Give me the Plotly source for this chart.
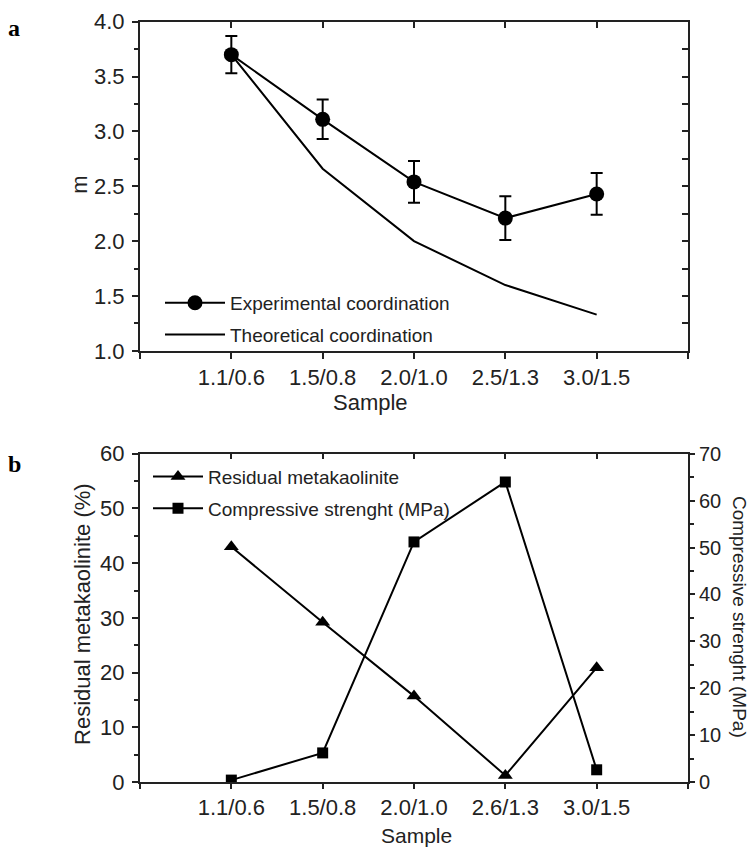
import plotly.graph_objects as go

# ---- data ----
samples_a = ["1.1/0.6", "1.5/0.8", "2.0/1.0", "2.5/1.3", "3.0/1.5"]
exp_coord = [3.70, 3.11, 2.54, 2.21, 2.43]
exp_err = [0.17, 0.18, 0.19, 0.20, 0.19]
theo_coord = [3.70, 2.66, 2.00, 1.60, 1.33]

samples_b = ["1.1/0.6", "1.5/0.8", "2.0/1.0", "2.6/1.3", "3.0/1.5"]
residual_mk = [43.0, 29.2, 15.7, 1.2, 20.9]
compressive = [0.4, 6.2, 51.2, 64.0, 2.6]

W, H = 752, 861
INK = "#222222"
FONT = "Liberation Sans, Arial, sans-serif"

xa = list(range(1, len(samples_a) + 1))
xb = list(range(1, len(samples_b) + 1))

def px(v):
    return v / W

def py(v):
    return 1 - v / H

xdom = [px(140), px(688)]
ydom_a = [py(349), py(10)]
ydom_b = [py(793), py(455)]

fig = go.Figure()

fig.add_trace(go.Scatter(
    x=xa, y=exp_coord, name="Experimental coordination", mode="lines+markers",
    line=dict(color="black", width=2),
    marker=dict(symbol="circle", size=15, color="black"),
    error_y=dict(type="data", array=exp_err, visible=True, color="black", thickness=2, width=6),
    xaxis="x", yaxis="y", legend="legend", legendgroup="g1"))
fig.add_trace(go.Scatter(
    x=xa, y=theo_coord, name="Theoretical coordination", mode="lines",
    line=dict(color="black", width=2),
    xaxis="x2", yaxis="y2", legend="legend", legendgroup="g2"))

fig.add_trace(go.Scatter(
    x=xb, y=residual_mk, name="Residual metakaolinite", mode="lines+markers",
    line=dict(color="black", width=2),
    marker=dict(symbol="triangle-up", size=13, color="black"),
    xaxis="x3", yaxis="y3", legend="legend2", legendgroup="g3"))
fig.add_trace(go.Scatter(
    x=xb, y=compressive, name="Compressive strenght (MPa)", mode="lines+markers",
    line=dict(color="black", width=2),
    marker=dict(symbol="square", size=11, color="black"),
    xaxis="x4", yaxis="y4", legend="legend2", legendgroup="g4"))

tickfont = dict(family=FONT, size=22, color=INK)
common = dict(showgrid=False, zeroline=False, showline=True, linecolor=INK, linewidth=2,
              tickcolor=INK, tickwidth=1.5, tickfont=tickfont)
common_r = dict(common, tickfont=dict(family=FONT, size=20, color=INK))

fig.update_layout(
    width=W, height=H, margin=dict(l=0, r=0, t=0, b=0),
    paper_bgcolor="white", plot_bgcolor="white",
    font=dict(family=FONT, color=INK),
    xaxis=dict(domain=xdom, anchor="y", range=[0, 6],
               tickmode="array", tickvals=[0] + xa + [6], ticktext=[""] + samples_a + [""],
               ticks="outside", ticklen=6, **common),
    xaxis2=dict(overlaying="x", side="top", anchor="y", range=[0, 6],
                tickmode="array", tickvals=xa, showticklabels=False,
                ticks="inside", ticklen=6, **common),
    yaxis=dict(domain=ydom_a, anchor="x", range=[1, 4], dtick=0.5, tick0=1,
               tickformat=".1f", ticks="outside", ticklen=6, ticklabelstandoff=3,
               minor=dict(dtick=0.25, ticks="outside", ticklen=4, tickcolor=INK, tickwidth=1.5),
               **common),
    yaxis2=dict(overlaying="y", side="right", anchor="x", range=[1, 4], dtick=0.25, tick0=1,
                showticklabels=False, ticks="inside", ticklen=6, **common),
    xaxis3=dict(domain=xdom, anchor="y3", range=[0, 6],
                tickmode="array", tickvals=[0] + xb + [6], ticktext=[""] + samples_b + [""],
                ticks="outside", ticklen=5, **common),
    xaxis4=dict(overlaying="x3", side="top", anchor="y3", range=[0, 6],
                tickmode="array", tickvals=xb, showticklabels=False,
                ticks="inside", ticklen=5, **common),
    yaxis3=dict(domain=ydom_b, anchor="x3", range=[0, 60], dtick=10, tick0=0,
                ticks="outside", ticklen=6, ticklabelstandoff=3,
                minor=dict(dtick=5, ticks="outside", ticklen=4, tickcolor=INK, tickwidth=1.5),
                **common),
    yaxis4=dict(overlaying="y3", side="right", anchor="x3", range=[0, 70], dtick=10, tick0=0,
                ticks="outside", ticklen=5,
                minor=dict(dtick=5, ticks="outside", ticklen=4, tickcolor=INK, tickwidth=1.5),
                **common_r),
    legend=dict(x=px(160), y=py(280), xanchor="left", yanchor="top",
                bgcolor="rgba(0,0,0,0)", font=dict(family=FONT, size=19, color=INK),
                itemwidth=60, tracegroupgap=4, traceorder="grouped"),
    legend2=dict(x=px(148), y=py(459), xanchor="left", yanchor="top",
                 bgcolor="rgba(0,0,0,0)", font=dict(family=FONT, size=19, color=INK),
                 itemwidth=50, tracegroupgap=4, traceorder="grouped"),
)

ann = [
    dict(text="<b>a</b>", x=px(14), y=py(16), font=dict(family="Liberation Serif, serif", size=24, color="black")),
    dict(text="<b>b</b>", x=px(14), y=py(466), font=dict(family="Liberation Serif, serif", size=24, color="black")),
    dict(text="m", x=px(80), y=py(178), textangle=-90, font=dict(family=FONT, size=22, color=INK)),
    dict(text="Sample", x=px(370), y=py(402), font=dict(family=FONT, size=22, color=INK)),
    dict(text="Sample", x=px(416), y=py(848), font=dict(family=FONT, size=21, color=INK)),
    dict(text="Residual metakaolinite (%)", x=px(83), y=py(620), textangle=-90,
         font=dict(family=FONT, size=22, color=INK)),
    dict(text="Compressive strenght (MPa)", x=px(739), y=py(623), textangle=90,
         font=dict(family=FONT, size=19, color=INK)),
]
for a in ann:
    a.update(xref="paper", yref="paper", showarrow=False, xanchor="center", yanchor="middle")
    fig.add_annotation(**a)

fig.write_html("out.html")
